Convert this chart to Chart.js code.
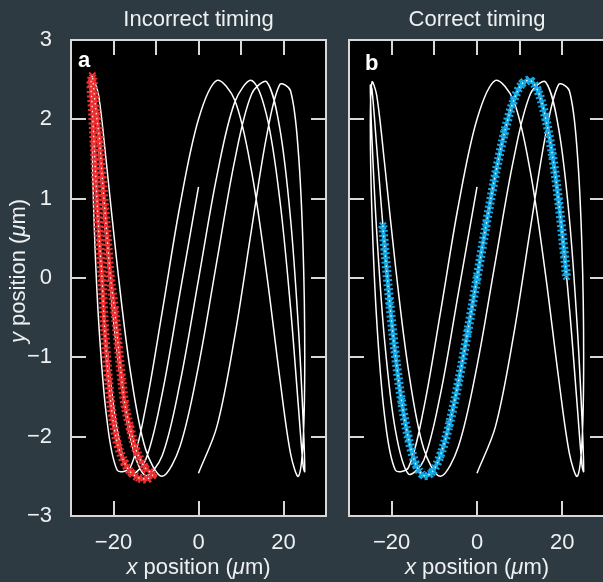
<!DOCTYPE html>
<html>
<head>
<meta charset="utf-8">
<script src="https://cdn.jsdelivr.net/npm/chart.js@4.4.0/dist/chart.umd.min.js"></script>
<style>
  html, body { margin: 0; padding: 0; background: #2e3a42; overflow: hidden; }
  body { width: 603px; height: 582px; position: relative; }
  canvas { position: absolute; top: 0; }
  #panel-a { left: 0; }
  #panel-b { left: 330px; }
</style>
</head>
<body>
<canvas id="panel-a" width="330" height="582"></canvas>
<canvas id="panel-b" width="275" height="582"></canvas>
<script>
// white reference trajectory (same in both panels)
const whiteX = [0, 4.34, 8.55, 12.5, 16.07, 19.15, 21.65, 23.49, 24.62, 25, 24.62, 23.49, 21.65, 19.15, 16.07, 12.5, 8.55, 4.34, 0,
  -4.34, -8.55, -12.5, -16.07, -19.15, -21.65, -23.49, -24.62, -25, -24.62, -23.49, -21.65, -19.15, -16.07, -12.5, -8.55, -4.34, 0,
  4.34, 8.55, 12.5, 16.07, 19.15, 21.65, 23.49, 24.62, 25, 24.62, 23.49, 21.65, 19.15, 16.07, 12.5, 8.55, 4.34, 0,
  -4.34, -8.55, -12.5, -16.07, -19.15, -21.65, -23.49, -24.62, -25, -24.62, -23.49, -21.65, -19.15, -16.07, -12.5, -8.55, -4.34, 0];
const whiteY = [-2.46, -1.87, -0.73, 0.62, 1.80, 2.44, 2.36, 1.59, 0.35, -0.99, -2.05, -2.50, -2.21, -1.27, 0.04, 1.34, 2.24, 2.49, 2.00,
  0.92, -0.43, -1.65, -2.39, -2.42, -1.74, -0.55, 0.80, 1.92, 2.47, 2.30, 1.44, 0.17, -1.16, -2.15, -2.50, -2.12, -1.11,
  0.22, 1.49, 2.32, 2.47, 1.88, 0.75, -0.61, -1.79, -2.44, -2.37, -1.61, -0.37, 0.98, 2.04, 2.49, 2.22, 1.29, -0.02,
  -1.32, -2.24, -2.49, -2.01, -0.94, 0.41, 1.64, 2.38, 2.43, 1.76, 0.57, -0.79, -1.91, -2.47, -2.30, -1.46, -0.18, 1.15];

// panel a: particle with incorrect timing
const redX = [-24.9, -24.5, -24.0, -23.3, -22.7, -22.1, -21.4, -20.7, -19.7, -18.9, -18.1, -17.3, -16.1, -14.6, -12.6, -10.8,
  -12.0, -14.0, -15.9, -17.4, -19.0, -20.2, -21.2, -22.1, -22.7, -23.3, -23.8, -24.2, -24.6, -25.0, -25.3, -25.0];
const redY = [2.52, 2.30, 2.05, 1.74, 1.30, 0.90, 0.45, 0.00, -0.42, -0.84, -1.26, -1.60, -1.89, -2.18, -2.39, -2.48,
  -2.53, -2.52, -2.45, -2.33, -2.10, -1.76, -1.26, -0.63, 0.00, 0.45, 0.90, 1.30, 1.74, 2.15, 2.45, 2.55];

// panel b: particle with correct timing
const blueX = [-22.07, -21.65, -20.48, -19.15, -17.68, -16.07, -14.34, -12.50, -10.57, -8.55, -6.47, -4.34, -2.18, 0,
  2.18, 4.34, 6.47, 8.55, 10.57, 12.50, 14.34, 16.07, 17.68, 19.15, 20.48, 20.97];
const blueY = [0.66, 0.39, -0.30, -0.96, -1.55, -2.02, -2.35, -2.49, -2.45, -2.23, -1.84, -1.31, -0.68, 0,
  0.68, 1.31, 1.84, 2.23, 2.45, 2.49, 2.35, 2.02, 1.55, 0.96, 0.30, 0.02];

const xTickValues = [-20, 0, 20];
const xTickLabels = ["\u221220", "0", "20"];
const xTopTicks = [-20, -10, 0, 10, 20];
const yTickValues = [-3, -2, -1, 0, 1, 2, 3];
const yTickLabels = ["\u22123", "\u22122", "\u22121", "0", "1", "2", "3"];
const yInnerTicks = [-2, -1, 0, 1, 2];
const panelTitles = ["Incorrect timing", "Correct timing"];
const panelLetters = ["a", "b"];

const TEXT = "#eef0f2";
const FRAME = "#d8d8d8";
const RED = "#ec3032";
const BLUE = "#15a8e4";
const FONT = "'Liberation Sans', Arial, Helvetica, sans-serif";

Chart.defaults.font.family = FONT;

function toPoints(xs, ys) {
  return xs.map((x, i) => ({ x, y: ys[i] }));
}

// mixed italic / upright text, centred on (cx, cy)
function drawRich(ctx, parts, cx, cy, rotate) {
  ctx.save();
  ctx.translate(cx, cy);
  if (rotate) ctx.rotate(-Math.PI / 2);
  ctx.textBaseline = "middle";
  ctx.textAlign = "left";
  ctx.fillStyle = TEXT;
  const widths = parts.map((p) => {
    ctx.font = p.font;
    return ctx.measureText(p.text).width;
  });
  let x = -widths.reduce((s, w) => s + w, 0) / 2;
  parts.forEach((p, i) => {
    ctx.font = p.font;
    ctx.fillText(p.text, x, 0);
    x += widths[i];
  });
  ctx.restore();
}

function axisTitleParts(letter) {
  const up = `22px ${FONT}`;
  const it = `italic 22px ${FONT}`;
  return [
    { text: letter, font: it },
    { text: " position (", font: up },
    { text: "\u03bc", font: it },
    { text: "m)", font: up },
  ];
}

const panelDecor = {
  id: "panelDecor",
  beforeDatasetsDraw(chart) {
    const { ctx, chartArea: a } = chart;
    ctx.save();
    ctx.fillStyle = "#000";
    ctx.fillRect(a.left, a.top, a.right - a.left, a.bottom - a.top);
    ctx.restore();
  },
  afterDatasetsDraw(chart, args, opts) {
    const { ctx, chartArea: a, scales } = chart;
    const x = scales.x;
    const y = scales.y;
    ctx.save();
    ctx.strokeStyle = FRAME;
    ctx.lineWidth = 2;
    ctx.beginPath();
    xTopTicks.forEach((v) => {
      const px = Math.round(x.getPixelForValue(v));
      ctx.moveTo(px, a.top);
      ctx.lineTo(px, a.top + 15);
    });
    xTickValues.forEach((v) => {
      const px = Math.round(x.getPixelForValue(v));
      ctx.moveTo(px, a.bottom);
      ctx.lineTo(px, a.bottom - 15);
    });
    yInnerTicks.forEach((v) => {
      const py = Math.round(y.getPixelForValue(v));
      ctx.moveTo(a.left, py);
      ctx.lineTo(a.left + 15, py);
      ctx.moveTo(a.right, py);
      ctx.lineTo(a.right - 15, py);
    });
    ctx.stroke();
    ctx.strokeRect(a.left, a.top, a.right - a.left, a.bottom - a.top);

    ctx.fillStyle = "#ffffff";
    ctx.font = `bold 22px ${FONT}`;
    ctx.textBaseline = "alphabetic";
    ctx.fillText(opts.letter, a.left + opts.letterDx, a.top + opts.letterDy);
    ctx.restore();

    const cx = (a.left + a.right) / 2;
    drawRich(ctx, axisTitleParts("x"), cx, 568, false);
    if (opts.yTitle) drawRich(ctx, axisTitleParts("y"), 19, 271, true);
  },
};

function chainDatasets(xs, ys, color) {
  const pts = toPoints(xs, ys);
  return [
    { data: pts, showLine: true, borderColor: "#ffffff", borderWidth: 1.2, borderDash: [1.5, 3.5],
      tension: 0.33, pointRadius: 0, order: 0 },
    { data: pts, showLine: false, pointStyle: "crossRot", pointRadius: 4.5, pointBorderWidth: 2,
      pointBorderColor: color, pointBackgroundColor: color, order: 1 },
    { data: pts, showLine: true, borderColor: color, borderWidth: 9, borderDash: [2, 2.5],
      borderJoinStyle: "round", tension: 0.33, pointRadius: 0, order: 2 },
    { data: pts, showLine: true, borderColor: color, borderWidth: 4, borderJoinStyle: "round",
      tension: 0.33, pointRadius: 0, order: 3 },
  ];
}

function makePanel(canvasId, idx, chain, opts) {
  const datasets = [
    ...chain,
    { data: toPoints(whiteX, whiteY), showLine: true, borderColor: "#ffffff", borderWidth: 1.5,
      tension: 0.33, pointRadius: 0, order: 4 },
  ];
  return new Chart(document.getElementById(canvasId), {
    type: "scatter",
    data: { datasets },
    plugins: [panelDecor],
    options: {
      responsive: false,
      animation: false,
      devicePixelRatio: 1,
      layout: { autoPadding: false, padding: { left: 0, right: opts.padRight, top: 0, bottom: 0 } },
      plugins: {
        legend: { display: false },
        tooltip: { enabled: false },
        title: {
          display: true,
          text: panelTitles[idx],
          fullSize: false,
          color: TEXT,
          font: { size: 22, weight: "normal" },
          padding: { top: 7, bottom: 6.6 },
        },
        panelDecor: { letter: panelLetters[idx], letterDx: opts.letterDx, letterDy: opts.letterDy, yTitle: opts.yTitle },
      },
      scales: {
        x: {
          type: "linear",
          min: -30,
          max: 30,
          grid: { display: false },
          border: { display: false },
          afterBuildTicks: (s) => { s.ticks = xTickValues.map((v) => ({ value: v })); },
          afterFit: (s) => {
            s.height = 66;
            s.paddingLeft = 0;
            s.paddingRight = 0;
          },
          ticks: {
            color: TEXT,
            font: { size: 22 },
            padding: 6,
            maxRotation: 0,
            autoSkip: false,
            callback: (v) => xTickLabels[xTickValues.indexOf(v)],
          },
        },
        y: {
          type: "linear",
          min: -3,
          max: 3,
          grid: { display: false },
          border: { display: false },
          afterBuildTicks: (s) => { s.ticks = yTickValues.map((v) => ({ value: v })); },
          afterFit: (s) => {
            s.width = opts.yWidth;
            s.paddingTop = 0;
            s.paddingBottom = 0;
          },
          ticks: {
            display: opts.yLabels,
            color: TEXT,
            font: { size: 22 },
            padding: 11,
            autoSkip: false,
            callback: (v) => yTickLabels[yTickValues.indexOf(v)],
          },
        },
      },
    },
  });
}

makePanel("panel-a", 0, chainDatasets(redX, redY, RED),
  { padRight: 4, yWidth: 71, yLabels: true, letterDx: 7, letterDy: 27, yTitle: true });
makePanel("panel-b", 1, chainDatasets(blueX, blueY, BLUE),
  { padRight: 0, yWidth: 19, yLabels: false, letterDx: 16, letterDy: 30, yTitle: false });
</script>
</body>
</html>
